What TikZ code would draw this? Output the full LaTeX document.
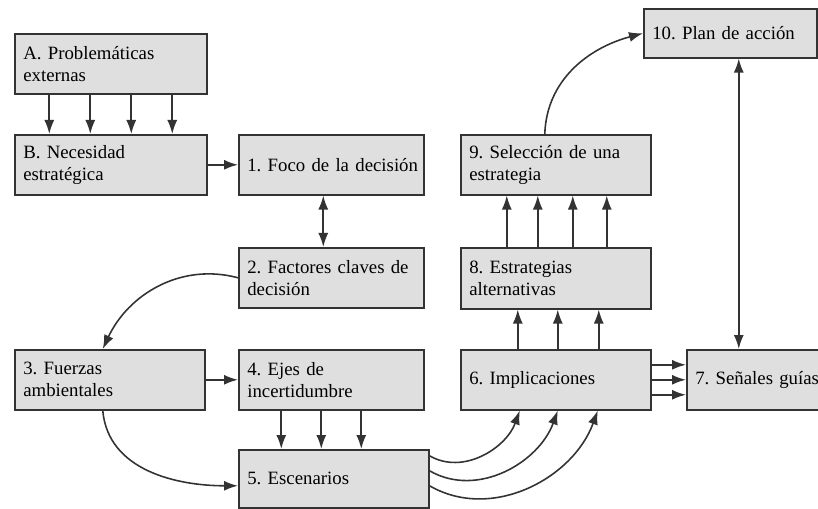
\documentclass[tikz,border=0pt]{standalone}
\usepackage{fontspec}
\setmainfont{Liberation Serif}
\usepackage{tikz}
\usetikzlibrary{arrows.meta}
\frenchspacing

\begin{document}
\begin{tikzpicture}[x=0.02cm, y=-0.02cm,
  caja/.style n args={2}{draw=black!80, fill=gray!25, line width=0.9pt,
    anchor=north west, align=left, inner xsep=0.17cm, inner ysep=0pt,
    text width=#1, minimum height=#2, font=\fontsize{10.7}{12.5}\selectfont},
  flecha/.style={draw=black!80, line width=0.9pt, -{Latex[length=2.8mm,width=2mm]}},
  doble/.style={flecha, {Latex[length=2.8mm,width=2mm]}-{Latex[length=2.8mm,width=2mm]}}]
\useasboundingbox (0,0) rectangle (818,509);
% boxes
\node[caja={3.5cm}{1.2cm}] (prob) at (14,33) {A. Problemáticas\\externas};
\node[caja={3.5cm}{1.2cm}] (nec) at (14,134) {B. Necesidad\\estratégica};
\node[caja={3.36cm}{1.2cm}] (foco) at (238,134) {\mbox{1. Foco de la decisión}};
\node[caja={3.36cm}{1.2cm}] (fac) at (238,247) {\mbox{2. Factores claves de}\\decisión};
\node[caja={3.46cm}{1.2cm}] (fue) at (14,349) {3. Fuerzas\\ambientales};
\node[caja={3.36cm}{1.2cm}] (eje) at (238,349) {4. Ejes de\\incertidumbre};
\node[caja={3.46cm}{1.16cm}] (esc) at (238,449) {5. Escenarios};
\node[caja={3.46cm}{1.2cm}] (imp) at (460,349) {6. Implicaciones};
\node[caja={2.66cm}{1.2cm}] (sen) at (686,349) {\mbox{7. Señales guías}};
\node[caja={3.46cm}{1.22cm}] (est) at (460,247) {8. Estrategias\\alternativas};
\node[caja={3.46cm}{1.2cm}] (sel) at (460,134) {9. Selección de una\\estrategia};
\node[caja={3.12cm}{0.98cm}] (plan) at (643,8) {\mbox{10. Plan de acción}};
% straight arrows
\foreach \d in {-1.23,-0.41,0.41,1.23}
  \draw[flecha] ([xshift=\d cm]prob.south) -- ([xshift=\d cm]nec.north);
\draw[flecha] (nec.east) -- (foco.west);
\draw[doble] ([xshift=-0.16cm]foco.south) -- ([xshift=-0.16cm]fac.north);
\draw[flecha] (fue.east) -- (eje.west);
\foreach \d in {-1.0,-0.2,0.6}
  \draw[flecha] ([xshift=\d cm]eje.south) -- ([xshift=\d cm]eje.south |- esc.north);
\foreach \d in {-0.76,0.04,0.86}
  \draw[flecha] ([xshift=\d cm]imp.north) -- ([xshift=\d cm]est.south);
\foreach \d in {-0.98,-0.36,0.34,1.02}
  \draw[flecha] ([xshift=\d cm]est.north) -- ([xshift=\d cm]sel.south);
\foreach \d in {0.3,0,-0.3}
  \draw[flecha] ([yshift=\d cm]imp.east) -- ([yshift=\d cm]imp.east -| sen.west);
\draw[doble] ([xshift=0.17cm]plan.south) -- ([xshift=0.17cm]plan.south |- sen.north);
% curved arrows
\draw[flecha] (fac.west) to[out=165, in=65] ([xshift=-0.14cm]fue.north);
\draw[flecha] ([xshift=-0.14cm]fue.south) to[out=-85, in=180] ([yshift=-0.14cm]esc.west);
\draw[flecha] ([yshift=0.46cm]esc.east) to[out=-30, in=-110] ([xshift=-0.72cm]imp.south);
\draw[flecha] ([yshift=0.16cm]esc.east) to[out=-30, in=-110] ([xshift=0.04cm]imp.south);
\draw[flecha] ([yshift=-0.14cm]esc.east) to[out=-30, in=-110] ([xshift=0.84cm]imp.south);
\draw[flecha] ([xshift=-0.22cm]sel.north) to[out=88, in=195] (plan.west);
\end{tikzpicture}
\end{document}
